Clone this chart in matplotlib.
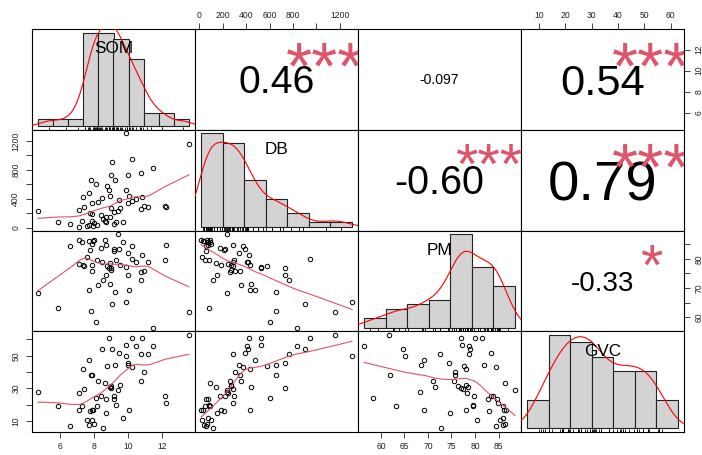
import numpy as np
import matplotlib
matplotlib.use("Agg")
import matplotlib.pyplot as plt
from matplotlib.transforms import ScaledTranslation

plt.rcParams['font.family'] = ['Liberation Sans', 'DejaVu Sans']

# one row per sample
som = [4.73, 5.88, 6.63, 7.14, 7.14, 7.37, 7.41, 7.33, 7.61, 7.73,
       7.73, 7.84, 7.92, 7.80, 7.88, 7.92, 7.95, 8.04, 8.12, 8.20,
       8.27, 8.43, 8.51, 8.55, 8.67, 8.71, 8.75, 8.78, 8.90, 8.94,
       9.02, 9.02, 8.96, 9.06, 9.22, 9.18, 9.25, 9.33, 9.45, 9.57,
       9.49, 9.73, 9.88, 9.92, 10.04, 10.04, 10.08, 10.27, 10.24, 10.51,
       10.78, 10.78, 10.82, 10.98, 11.22, 11.49, 12.20, 12.24, 13.60]
db = [235, 85, 55, 250, 17, 430, 285, 90, 26, 480,
      43, 655, 345, 213, 190, 100, 31, 65, 604, 48,
      360, 179, 420, 122, 94, 150, 77, 576, 530, 145,
      270, 735, 440, 905, 224, 60, 655, 88, 241, 270,
      390, 80, 530, 1302, 729, 338, 434, 377, 945, 406,
      264, 763, 423, 309, 287, 831, 298, 292, 1160]
pm = [68.4, 63.1, 84.5, 78.4, 86.6, 78.0, 77.5, 85.9, 80.5, 69.2,
      86.0, 62.0, 75.8, 83.0, 78.0, 85.3, 86.2, 86.4, 58.2, 79.6,
      71.0, 83.8, 79.0, 72.7, 86.4, 74.6, 84.7, 77.6, 77.0, 78.5,
      76.3, 77.0, 71.5, 64.6, 83.4, 82.8, 68.6, 79.5, 88.5, 78.0,
      83.4, 85.9, 77.3, 65.2, 74.4, 81.9, 69.2, 84.5, 80.1, 78.8,
      75.5, 72.6, 81.5, 75.8, 78.8, 56.4, 79.8, 84.8, 61.7]
gvc = [28.0, 19.2, 6.7, 27.0, 16.4, 41.6, 29.3, 19.4, 10.3, 47.1,
       7.5, 37.9, 37.9, 16.0, 16.6, 10.4, 16.8, 8.4, 24.0, 19.2,
       34.4, 25.0, 53.9, 5.5, 33.2, 15.1, 23.7, 43.4, 60.7, 30.9,
       31.3, 29.9, 30.6, 53.9, 25.0, 23.7, 44.5, 19.8, 29.1, 32.2,
       51.8, 11.6, 56.4, 49.6, 45.5, 44.5, 16.8, 43.0, 61.1, 56.0,
       34.2, 51.2, 61.1, 39.8, 50.8, 56.0, 25.0, 21.3, 62.7]

names = ["SOM", "DB", "PM", "GVC"]
data = [np.array(som), np.array(db), np.array(pm), np.array(gvc)]
breaks = [np.arange(4, 15, 1), np.arange(0, 1401, 200),
          np.arange(55, 91, 5), np.arange(0, 71, 10)]

# upper panels: (row, col), correlation text, significance stars
cor_pairs = [(0, 1), (0, 2), (0, 3), (1, 2), (1, 3), (2, 3)]
cor_labels = ["0.46", "-0.097", "0.54", "-0.60", "0.79", "-0.33"]
cor_stars = ["***", "", "***", "***", "***", "*"]

# outer axes: ticks and the labels that get printed
ticks = {
    "top1": ([0, 200, 400, 600, 800, 1000, 1200], ["0", "200", "400", "600", "800", "", "1200"]),
    "top3": ([10, 20, 30, 40, 50, 60], ["10", "20", "30", "40", "50", "60"]),
    "bot0": ([6, 8, 10, 12], ["6", "8", "10", "12"]),
    "bot2": ([60, 65, 70, 75, 80, 85], ["60", "65", "70", "75", "80", "85"]),
    "left1": ([0, 200, 400, 600, 800, 1000, 1200], ["0", "", "400", "", "800", "", "1200"]),
    "left3": ([10, 20, 30, 40, 50, 60], ["10", "", "30", "", "50", ""]),
    "right0": ([6, 8, 10, 12], ["6", "8", "10", "12"]),
    "right2": ([60, 65, 70, 75, 80, 85], ["60", "", "70", "", "80", ""]),
}

STAR = '#DF536B'


def lowess(x, y, f=2 / 3, it=3):
    o = np.argsort(x, kind='stable')
    x = np.asarray(x, float)[o]
    y = np.asarray(y, float)[o]
    n = len(x)
    ns = max(min(int(round(f * n)), n), 2)
    rw = np.ones(n)
    fit = np.zeros(n)
    for k in range(it + 1):
        for i in range(n):
            d = np.abs(x - x[i])
            h = np.sort(d)[ns - 1]
            w = np.zeros(n)
            if h > 0:
                r = d / h
                inside = d <= 0.999 * h
                w[inside] = (1 - r[inside] ** 3) ** 3
                w[d <= 0.001 * h] = 1.0
            else:
                w[d == 0] = 1.0
            w = w * rw
            sw = w.sum()
            if sw <= 0:
                fit[i] = y[i]
                continue
            w = w / sw
            a = (w * x).sum()
            c = (w * (x - a) ** 2).sum()
            if np.sqrt(c) > 0.001 * (x[-1] - x[0]):
                b = (x[i] - a) / c
                w = w * (b * (x - a) + 1)
            fit[i] = (w * y).sum()
        if k == it:
            break
        res = y - fit
        cmad = 6 * np.median(np.abs(res))
        if cmad < 1e-7 * np.abs(y).mean():
            break
        r = np.abs(res)
        rw = np.where(r <= 0.001 * cmad, 1.0,
                      np.where(r > 0.999 * cmad, 0.0, (1 - (r / cmad) ** 2) ** 2))
    return x, fit


def kde(x):
    n = len(x)
    q75, q25 = np.percentile(x, [75, 25])
    lo = min(x.std(ddof=1), (q75 - q25) / 1.34)
    bw = 0.9 * lo * n ** -0.2
    g = np.linspace(x.min() - 3 * bw, x.max() + 3 * bw, 512)
    d = np.exp(-0.5 * ((g[:, None] - x[None, :]) / bw) ** 2).sum(1) / (n * bw * np.sqrt(2 * np.pi))
    return g, d


def ext(v):
    lo, hi = float(np.min(v)), float(np.max(v))
    pad = 0.04 * (hi - lo)
    return lo - pad, hi + pad


W, H = 702, 455
fig = plt.figure(figsize=(W / 100, H / 100), dpi=100)
x_left, y_top = 32, 29
pw, ph = 163, 100.75

axes = {}
for i in range(4):
    for j in range(4):
        x0 = (x_left + pw * j) / W
        y0 = 1 - (y_top + ph * (i + 1)) / H
        ax = fig.add_axes([x0, y0, pw / W, ph / H])
        ax.set_xticks([])
        ax.set_yticks([])
        for s in ax.spines.values():
            s.set_linewidth(0.8)
            s.set_color('black')
        axes[i, j] = ax

lims = [ext(v) for v in data]

# diagonal: density histograms with rug and variable name
for k in range(4):
    ax = axes[k, k]
    x = data[k]
    b = breaks[k]
    idx = np.clip(np.searchsorted(b, x, side='left') - 1, 0, len(b) - 2)
    counts = np.bincount(idx, minlength=len(b) - 1)
    dens = counts / (len(x) * np.diff(b))
    ax.bar(b[:-1], dens, width=np.diff(b), align='edge', color='#D3D3D3',
           edgecolor='#222222', linewidth=0.8, zorder=1)
    g, d = kde(x)
    ax.plot(g, d, color='red', lw=0.8, zorder=3)
    span = b[-1] - b[0]
    m = dens.max()
    ax.set_xlim(b[0] - 0.04 * span, b[-1] + 0.04 * span)
    ax.set_ylim(-0.04 * m, 1.04 * m)
    ymin = -0.04 * m
    ax.vlines(x, ymin, ymin + 0.03 * 1.08 * m, color='black', lw=0.6, zorder=4)
    ax.text(0.5, 0.82, names[k], transform=ax.transAxes + ScaledTranslation(0, -0.358 * 12.3 / 72, fig.dpi_scale_trans),
            ha='center', va='baseline', fontsize=12.3, color='black', zorder=5)

# lower panels: scatter with lowess smoother
for i in range(4):
    for j in range(i):
        ax = axes[i, j]
        xv, yv = data[j], data[i]
        ax.plot(xv, yv, 'o', mfc='none', mec='black', ms=3.2, mew=0.7, clip_on=True)
        lx, ly = lowess(xv, yv)
        ax.plot(lx, ly, color=STAR, lw=0.8)
        ax.set_xlim(*lims[j])
        ax.set_ylim(*lims[i])

# upper panels: correlation value sized by |r| plus stars
renderer = fig.canvas.get_renderer()
for (i, j), lab, st in zip(cor_pairs, cor_labels, cor_stars):
    ax = axes[i, j]
    ax.set_xlim(*lims[j])
    ax.set_ylim(*lims[i])
    probe = ax.text(0, 0, lab, fontsize=100, transform=ax.transAxes)
    wpx = probe.get_window_extent(renderer).width
    probe.remove()
    fs_base = 100 * 0.8 * pw / wpx
    r = abs(float(lab))
    fs_num = fs_base * (r + 0.3) / 1.3
    ax.text(0.5, 0.5, lab, fontsize=fs_num, ha='center', va='baseline',
            transform=ax.transAxes + ScaledTranslation(0, -0.36 * fs_num / 72, fig.dpi_scale_trans))
    if st:
        ax.text(0.8, 0.79, st, fontsize=fs_base, ha='center', va='baseline', color=STAR,
                clip_on=True,
                transform=ax.transAxes + ScaledTranslation(0, -0.57 * fs_base / 72, fig.dpi_scale_trans))

# outer axes
tk = dict(direction='out', length=4, width=0.6, labelsize=6.2, colors='#222222')


def put_x(ax, key, top):
    t, l = ticks[key]
    ax.set_xticks(t, l)
    if top:
        ax.tick_params(axis='x', top=True, bottom=False, labeltop=True, labelbottom=False, pad=2.5, **tk)
    else:
        ax.tick_params(axis='x', top=False, bottom=True, labeltop=False, labelbottom=True, pad=3.5, **tk)


def put_y(ax, key, right):
    t, l = ticks[key]
    ax.set_yticks(t, l)
    if right:
        ax.tick_params(axis='y', left=False, right=True, labelleft=False, labelright=True, pad=3.5, **tk)
    else:
        ax.tick_params(axis='y', left=True, right=False, labelleft=True, labelright=False, pad=4.5, **tk)
    for lb in ax.get_yticklabels():
        lb.set_rotation(90)
        lb.set_va('center')


put_x(axes[0, 1], "top1", True)
put_x(axes[0, 3], "top3", True)
put_x(axes[3, 0], "bot0", False)
put_x(axes[3, 2], "bot2", False)
put_y(axes[1, 0], "left1", False)
put_y(axes[3, 0], "left3", False)
put_y(axes[0, 3], "right0", True)
put_y(axes[2, 3], "right2", True)

fig.savefig("out.png", dpi=100)
